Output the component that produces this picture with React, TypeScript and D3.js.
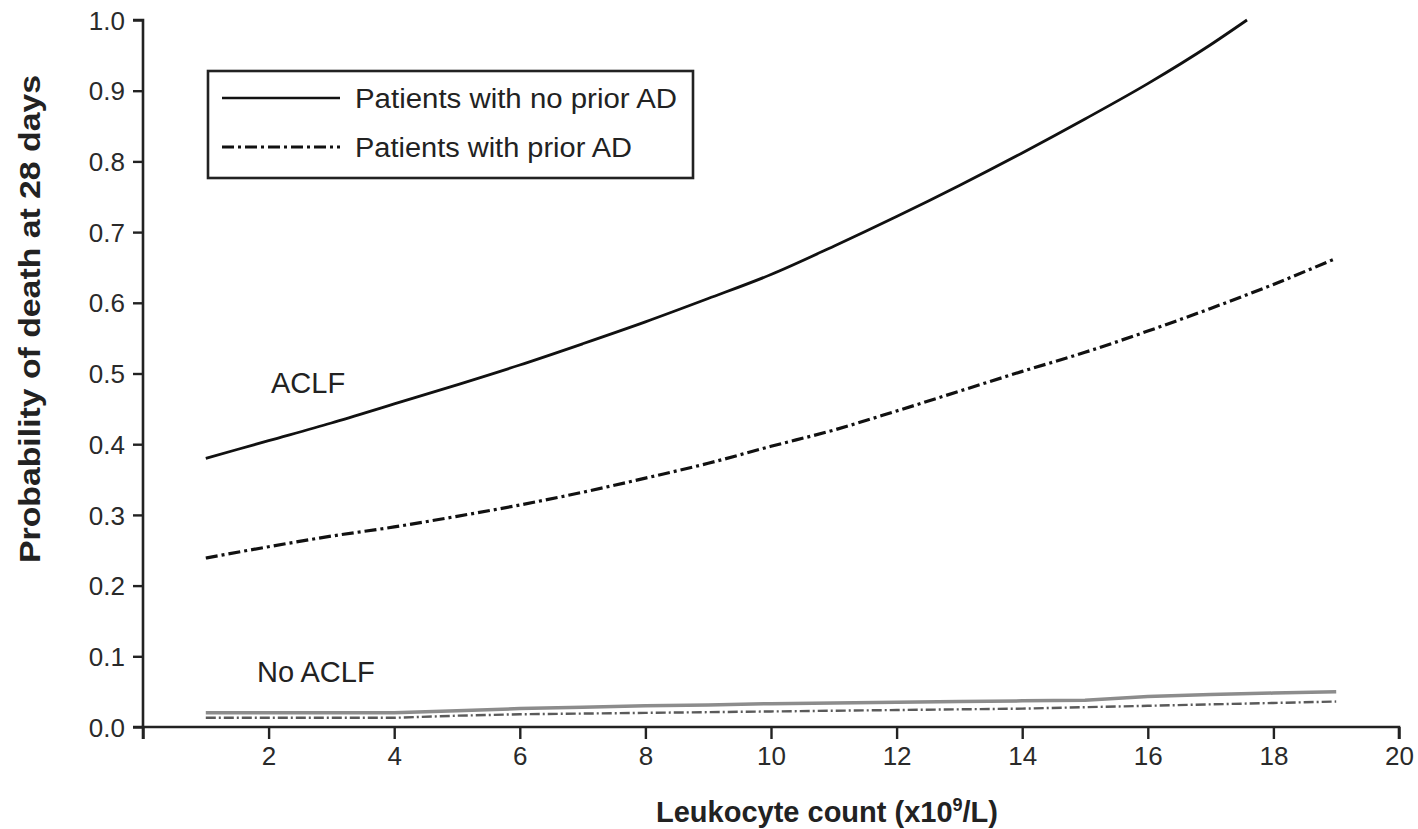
import React, { useEffect, useRef } from 'react';
import * as d3 from 'd3';

// leukocyte count (x10^9/L)
const xs = [1, 2, 3, 4, 5, 6, 7, 8, 9, 10, 11, 12, 13, 14, 15, 16, 17, 18, 19];
// ACLF, no prior AD (solid) - ends where it hits 1.0
const aclfNoPriorX = [1, 2, 3, 4, 5, 6, 7, 8, 9, 10, 11, 12, 13, 14, 15, 16, 17, 17.58];
const aclfNoPrior = [0.38, 0.405, 0.43, 0.457, 0.484, 0.512, 0.542, 0.573, 0.606, 0.64, 0.68, 0.722, 0.766, 0.812, 0.86, 0.91, 0.965, 1.0];
// ACLF, prior AD (dash-dot)
const aclfPrior = [0.239, 0.255, 0.27, 0.283, 0.298, 0.314, 0.332, 0.352, 0.373, 0.397, 0.42, 0.447, 0.475, 0.503, 0.53, 0.56, 0.592, 0.626, 0.663];
// No ACLF
const noAclfNoPrior = [0.02, 0.02, 0.02, 0.02, 0.023, 0.026, 0.028, 0.03, 0.031, 0.033, 0.034, 0.035, 0.036, 0.037, 0.038, 0.043, 0.046, 0.048, 0.05];
const noAclfPrior = [0.013, 0.013, 0.013, 0.013, 0.016, 0.018, 0.019, 0.02, 0.021, 0.022, 0.023, 0.024, 0.025, 0.026, 0.028, 0.03, 0.032, 0.034, 0.036];

const xTicks = [0, 2, 4, 6, 8, 10, 12, 14, 16, 18, 20];
const yTicks = [0, 0.1, 0.2, 0.3, 0.4, 0.5, 0.6, 0.7, 0.8, 0.9, 1.0];
const legendLabels = ['Patients with no prior AD', 'Patients with prior AD'];

const FONT = '"Liberation Sans", Arial, Helvetica, sans-serif';
const DASHDOT = '12 4 3 4';

const App = () => {
  const ref = useRef<SVGSVGElement | null>(null);

  useEffect(() => {
    const svg = d3.select(ref.current);
    svg.selectAll('*').remove();

    const width = 1418;
    const height = 829;
    svg.attr('width', width).attr('height', height);

    const x = d3.scaleLinear().domain([0, 20]).range([143, 1399]);
    const y = d3.scaleLinear().domain([0, 1]).range([727, 20]);

    // axes
    const xAxis = svg.append('g')
      .attr('transform', `translate(0,${y(0)})`)
      .call(d3.axisBottom(x).tickValues(xTicks).tickSize(12).tickPadding(8)
        .tickFormat(d => (d === 0 ? '' : String(d))));
    const yAxis = svg.append('g')
      .attr('transform', `translate(${x(0)},0)`)
      .call(d3.axisLeft(y).tickValues(yTicks).tickSize(10).tickPadding(8)
        .tickFormat(d3.format('.1f')));

    [xAxis, yAxis].forEach(ax => {
      ax.select('.domain').attr('stroke', '#222').attr('stroke-width', 2.6);
      ax.selectAll('.tick line').attr('stroke', '#222').attr('stroke-width', 2.4);
      ax.selectAll('.tick text')
        .attr('fill', '#2a2a2a')
        .style('font-family', FONT)
        .style('font-size', '26px');
    });
    xAxis.select('.domain').attr('d', `M${x(0)},12V0H${x(20)}V12`);
    yAxis.select('.domain').attr('d', `M-10,${y(1)}H0V${y(0)}H-10`);
    yAxis.selectAll('.tick text').attr('dy', '0.35em');

    const smooth = d3.line<[number, number]>()
      .x(d => x(d[0]))
      .y(d => y(d[1]))
      .curve(d3.curveMonotoneX);
    const straight = d3.line<[number, number]>()
      .x(d => x(d[0]))
      .y(d => y(d[1]));

    const zip = (a: number[], b: number[]) => a.map((v, i) => [v, b[i]] as [number, number]);

    // No ACLF curves (grey)
    svg.append('path')
      .attr('d', straight(zip(xs, noAclfNoPrior)))
      .attr('fill', 'none')
      .attr('stroke', '#8c8c8c')
      .attr('stroke-width', 3.5);
    svg.append('path')
      .attr('d', straight(zip(xs, noAclfPrior)))
      .attr('fill', 'none')
      .attr('stroke', '#5a5a5a')
      .attr('stroke-width', 2.4)
      .attr('stroke-dasharray', '10 3 2 3');

    // ACLF curves
    svg.append('path')
      .attr('d', smooth(zip(aclfNoPriorX, aclfNoPrior)))
      .attr('fill', 'none')
      .attr('stroke', '#111')
      .attr('stroke-width', 2.8);
    svg.append('path')
      .attr('d', smooth(zip(xs, aclfPrior)))
      .attr('fill', 'none')
      .attr('stroke', '#111')
      .attr('stroke-width', 3.2)
      .attr('stroke-dasharray', DASHDOT);

    // group labels
    svg.append('text')
      .attr('x', 271).attr('y', 393)
      .style('font-family', FONT).style('font-size', '29px')
      .attr('fill', '#222')
      .text('ACLF');
    svg.append('text')
      .attr('x', 257).attr('y', 682)
      .style('font-family', FONT).style('font-size', '29px')
      .attr('fill', '#222')
      .text('No ACLF');

    // legend
    const legend = svg.append('g');
    legend.append('rect')
      .attr('x', 208).attr('y', 71)
      .attr('width', 485).attr('height', 107)
      .attr('fill', 'white')
      .attr('stroke', '#222')
      .attr('stroke-width', 2.6);
    legendLabels.forEach((label, i) => {
      const ly = 98 + i * 49;
      legend.append('line')
        .attr('x1', 222).attr('x2', 340)
        .attr('y1', ly).attr('y2', ly)
        .attr('stroke', '#111')
        .attr('stroke-width', i === 0 ? 2.6 : 3.2)
        .attr('stroke-dasharray', i === 0 ? null : DASHDOT);
      legend.append('text')
        .attr('x', 355).attr('y', ly + 10)
        .style('font-family', FONT).style('font-size', '27px')
        .attr('fill', '#222')
        .attr('textLength', i === 0 ? 322 : 277)
        .attr('lengthAdjust', 'spacingAndGlyphs')
        .text(label);
    });

    // axis titles
    const xt = svg.append('text')
      .attr('x', 827).attr('y', 822)
      .attr('text-anchor', 'middle')
      .style('font-family', FONT).style('font-size', '29px').style('font-weight', 'bold')
      .attr('fill', '#222');
    xt.append('tspan').text('Leukocyte count (x10');
    xt.append('tspan').attr('dy', -11).style('font-size', '18px').text('9');
    xt.append('tspan').attr('dy', 11).text('/L)');

    svg.append('text')
      .attr('transform', 'translate(40,319) rotate(-90)')
      .attr('text-anchor', 'middle')
      .style('font-family', FONT).style('font-size', '30px').style('font-weight', 'bold')
      .attr('fill', '#222')
      .attr('textLength', 488)
      .attr('lengthAdjust', 'spacingAndGlyphs')
      .text('Probability of death at 28 days');
  }, []);

  return (
    <svg ref={ref} style={{ position: 'absolute', left: 0, top: 0, background: 'white' }}></svg>
  );
};

export default App;
